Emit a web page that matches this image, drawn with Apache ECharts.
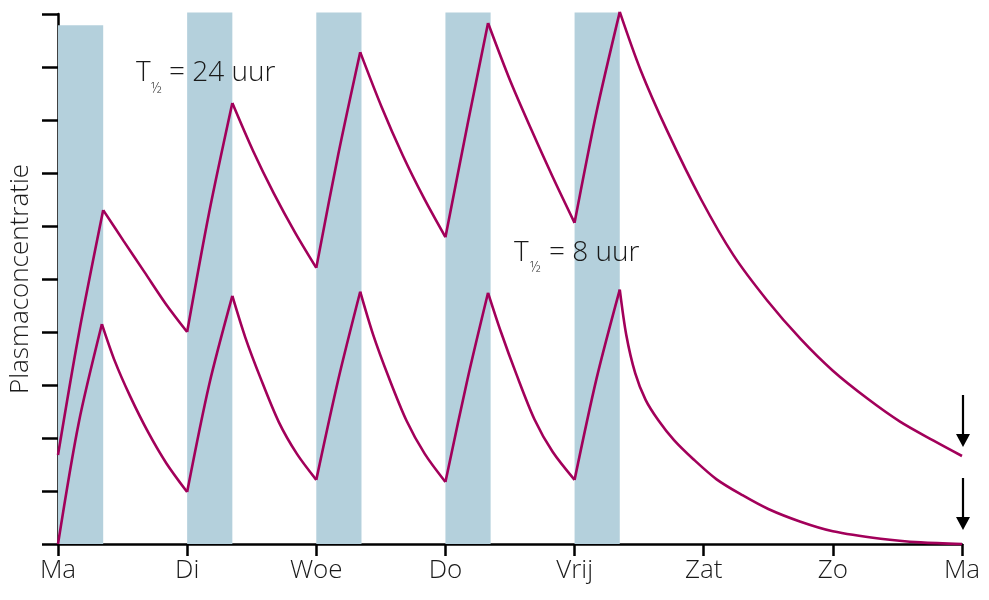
<!DOCTYPE html>
<html><head><meta charset="utf-8">
<script src="https://cdn.jsdelivr.net/npm/echarts/dist/echarts.min.js"></script>
<style>html,body{margin:0;padding:0;background:#fff}#c{width:989px;height:600px}</style>
</head><body><div id="c"></div>
<script>
// ---- data (x in days from Monday, y = concentration units) ----
const dayLabels = ['Ma', 'Di', 'Woe', 'Do', 'Vrij', 'Zat', 'Zo', 'Ma'];
const infusionStart = [0, 1, 2, 3, 4];
const infusionLength = 0.35;
const infusionTop = [9.79, 10.03, 10.03, 10.03, 10.03];

// half-life 24 h
const days24 = [0, 0.16, 0.35, 0.51, 0.67, 0.835, 1.0,
  1.17, 1.35, 1.51, 1.67, 1.835, 2.0,
  2.17, 2.34, 2.505, 2.67, 2.835, 3.0,
  3.17, 3.33, 3.50, 3.665, 3.83, 4.0,
  4.17, 4.35, 4.51, 4.72, 4.98, 5.23, 5.49, 5.75, 6.0, 6.27, 6.52, 6.78, 7.0];
const conc24 = [1.68, 3.95, 6.30, 5.71, 5.13, 4.53, 4.0,
  6.25, 8.32, 7.42, 6.62, 5.88, 5.21,
  7.35, 9.28, 8.25, 7.33, 6.52, 5.79,
  7.90, 9.83, 8.75, 7.82, 6.93, 6.06,
  8.15, 10.04, 8.95, 7.78, 6.50, 5.45, 4.60, 3.87, 3.27, 2.74, 2.31, 1.95, 1.66];

// half-life 8 h
const days8 = [0, 0.16, 0.34, 0.44, 0.56, 0.70, 0.84, 1.0,
  1.17, 1.35, 1.45, 1.57, 1.71, 1.85, 2.0,
  2.17, 2.34, 2.44, 2.56, 2.70, 2.84, 3.0,
  3.17, 3.33, 3.43, 3.55, 3.69, 3.83, 4.0,
  4.17, 4.35, 4.40, 4.47, 4.55, 4.65, 4.77, 4.92, 5.1, 5.3, 5.5, 5.75, 6.0, 6.37, 6.68, 7.0];
const conc8 = [0, 2.28, 4.15, 3.45, 2.78, 2.10, 1.52, 0.98,
  3.0, 4.68, 3.90, 3.12, 2.30, 1.70, 1.21,
  3.10, 4.76, 3.95, 3.15, 2.32, 1.70, 1.17,
  3.10, 4.74, 4.00, 3.20, 2.35, 1.74, 1.21,
  3.12, 4.80, 3.95, 3.22, 2.72, 2.33, 1.96, 1.60, 1.22, 0.92, 0.66, 0.42, 0.24, 0.10, 0.03, 0.0];

const lineColor = '#a2005a';
const barColor = '#b4d0dc';
const fontFam = '"Open Sans", "Noto Sans", sans-serif';

// split a curve into monotone segments so peaks stay sharp
function segments(xs, ys) {
  const out = [];
  let cur = [[xs[0], ys[0]]];
  let dir = Math.sign(ys[1] - ys[0]);
  for (let i = 1; i < xs.length; i++) {
    const d = Math.sign(ys[i] - ys[i - 1]);
    if (d !== dir && d !== 0) {
      out.push(cur);
      cur = [[xs[i - 1], ys[i - 1]]];
      dir = d;
    }
    cur.push([xs[i], ys[i]]);
  }
  out.push(cur);
  return out;
}

const series = [];
series.push({
  type: 'custom',
  z: 1,
  clip: false,
  data: infusionStart.map((s, i) => [s, s + infusionLength, infusionTop[i]]),
  renderItem: function (params, api) {
    const p0 = api.coord([api.value(0), 0]);
    const p1 = api.coord([api.value(1), api.value(2)]);
    return {
      type: 'rect',
      shape: { x: p0[0], y: p1[1], width: p1[0] - p0[0], height: p0[1] - p1[1] },
      style: { fill: barColor }
    };
  }
});
[segments(days24, conc24), segments(days8, conc8)].forEach(segs => {
  segs.forEach(seg => {
    series.push({
      type: 'line',
      z: 3,
      data: seg,
      smooth: 0.3,
      symbol: 'none',
      clip: false,
      lineStyle: { color: lineColor, width: 2.6 }
    });
  });
});

const chart = echarts.init(document.getElementById('c'));
chart.setOption({
  animation: false,
  grid: { left: 55, right: 27, top: 14, bottom: 56 },
  xAxis: {
    type: 'value', min: 0, max: 7, interval: 1,
    axisLine: { show: true, lineStyle: { color: '#000', width: 2.5 } },
    axisTick: { show: true, inside: false, length: 12, lineStyle: { color: '#000', width: 2.5 } },
    splitLine: { show: false },
    axisLabel: {
      margin: 14, fontSize: 26, color: '#1a1a1a', fontFamily: fontFam, fontWeight: 300,
      formatter: v => dayLabels[Math.round(v)]
    }
  },
  yAxis: {
    type: 'value', min: 0, max: 10, interval: 1,
    name: 'Plasmaconcentratie', nameLocation: 'middle', nameGap: 24,
    nameTextStyle: { fontSize: 26, color: '#1a1a1a', fontFamily: fontFam, fontWeight: 300 },
    axisLine: { show: true, lineStyle: { color: '#000', width: 2.5 } },
    axisTick: { show: true, inside: false, length: 16, lineStyle: { color: '#000', width: 2.5 } },
    axisLabel: { show: false },
    splitLine: { show: false }
  },
  graphic: [
    { type: 'text', z: 10, style: { x: 136, y: 73, text: 'T', fontSize: 28, fontWeight: 300, fontFamily: fontFam, fill: '#1a1a1a', verticalAlign: 'middle' } },
    { type: 'text', z: 10, style: { x: 151, y: 89, text: '½', fontSize: 14, fontWeight: 300, fontFamily: fontFam, fill: '#1a1a1a', verticalAlign: 'middle' } },
    { type: 'text', z: 10, style: { x: 169, y: 73, text: '= 24 uur', fontSize: 28, fontWeight: 300, fontFamily: fontFam, fill: '#1a1a1a', verticalAlign: 'middle' } },
    { type: 'text', z: 10, style: { x: 514, y: 253, text: 'T', fontSize: 28, fontWeight: 300, fontFamily: fontFam, fill: '#1a1a1a', verticalAlign: 'middle' } },
    { type: 'text', z: 10, style: { x: 530, y: 268, text: '½', fontSize: 14, fontWeight: 300, fontFamily: fontFam, fill: '#1a1a1a', verticalAlign: 'middle' } },
    { type: 'text', z: 10, style: { x: 549, y: 253, text: '= 8 uur', fontSize: 28, fontWeight: 300, fontFamily: fontFam, fill: '#1a1a1a', verticalAlign: 'middle' } },
    { type: 'line', z: 10, shape: { x1: 963, y1: 395, x2: 963, y2: 436 }, style: { stroke: '#000', lineWidth: 2.2 } },
    { type: 'polygon', z: 10, shape: { points: [[956, 434], [970, 434], [963, 447]] }, style: { fill: '#000' } },
    { type: 'line', z: 10, shape: { x1: 963, y1: 478, x2: 963, y2: 519 }, style: { stroke: '#000', lineWidth: 2.2 } },
    { type: 'polygon', z: 10, shape: { points: [[956, 517], [970, 517], [963, 530]] }, style: { fill: '#000' } }
  ],
  series: series
});
</script>
</body></html>
